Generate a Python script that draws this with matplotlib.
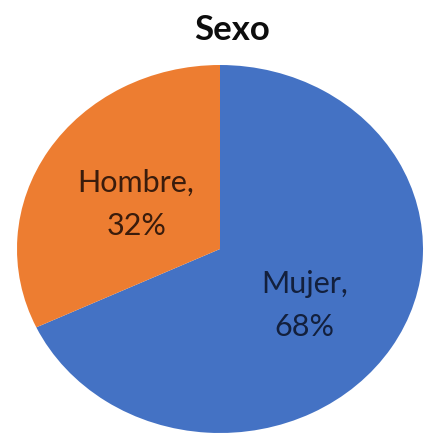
import numpy as np
import matplotlib.pyplot as plt

categories = ['Mujer', 'Hombre']
shares = [68, 32]
slice_colors = ['#4472C4', '#ED7D31']
label_colors = ['#13203d', '#3a1c0c']
title = 'Sexo'

plt.rcParams['font.family'] = ['Lato', 'DejaVu Sans']

W, H = 430, 434
fig = plt.figure(figsize=(W / 100, H / 100), dpi=100)

# the source image is stretched sideways: pie is an ellipse
cx, cy, rx, ry = 220, 249, 203, 184
ax = fig.add_axes([(cx - rx) / W, (H - cy - ry) / H, 2 * rx / W, 2 * ry / H])

labels = ['{},\n{}%'.format(c, v) for c, v in zip(categories, shares)]
wedges, texts = ax.pie(
    shares,
    labels=labels,
    colors=slice_colors,
    startangle=90,
    counterclock=False,
    labeldistance=0.5,
    radius=1,
    wedgeprops=dict(linewidth=0),
    textprops=dict(fontsize=22, ha='center', va='center', linespacing=1.65),
)
# nudge labels like the original's best-fit placement (angle shift, distance)
nudges = [(-4.1, 0.52), (1.8, 0.48)]
for t, w, c, (da, d) in zip(texts, wedges, label_colors, nudges):
    mid = np.deg2rad((w.theta1 + w.theta2) / 2 + da)
    t.set_position((d * np.cos(mid), d * np.sin(mid)))
    t.set_color(c)

ax.set_aspect('auto')
ax.set_xlim(-1, 1)
ax.set_ylim(-1, 1)

fig.text(232 / W, 1 - 40 / H, title, ha='center', va='baseline',
         fontsize=25, fontweight='bold', color='#0d0d0d')

fig.savefig('out.png', dpi=100, facecolor='white')
